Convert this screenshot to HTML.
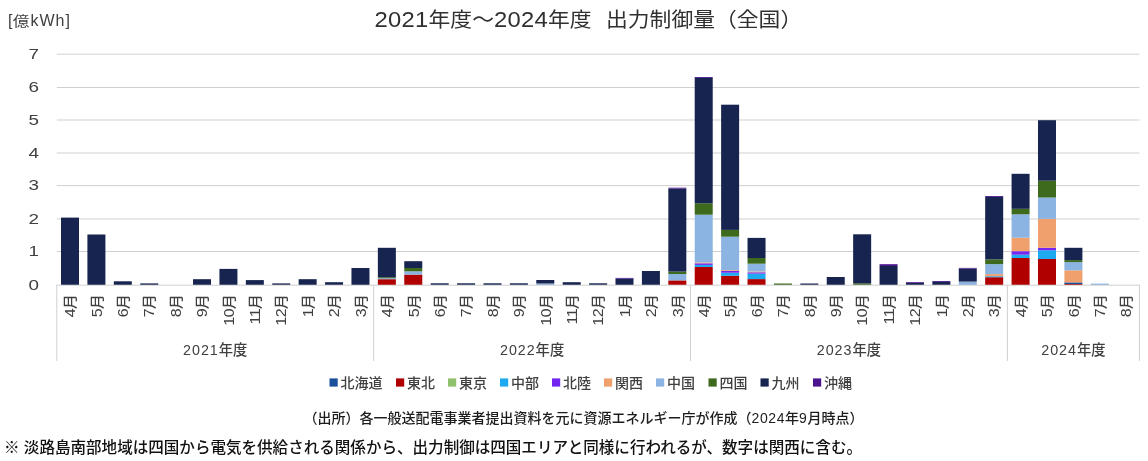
<!DOCTYPE html>
<html lang="ja">
<head>
<meta charset="utf-8">
<title>2021年度～2024年度 出力制御量（全国）</title>
<style>
html,body{margin:0;padding:0;background:#fff;}
body{width:1148px;height:461px;position:relative;overflow:hidden;
 font-family:"Liberation Sans","Noto Sans CJK JP",sans-serif;color:#404040;}
.t{position:absolute;white-space:nowrap;line-height:1;}
#chart{position:absolute;left:0;top:0;}
.title{font-size:21.8px;color:#303030;transform-origin:0 50%;transform:scaleY(0.93);}
.title .n{font-size:23.8px;letter-spacing:0.25px;}
.sp{display:inline-block;width:14.5px;}
.unit{font-size:16px;letter-spacing:1.0px;}
.unit .k{display:inline-block;transform-origin:50% 72%;transform:scale(1.04,0.88);}
.yl{font-size:14.5px;width:20px;text-align:right;transform-origin:100% 50%;transform:scaleX(1.3);}
.ml{font-weight:500;font-size:13.6px;letter-spacing:0.3px;transform-origin:0 0;transform:rotate(-90deg) scaleX(1.1) translate(-100%,-50%);}
.ml .n{font-size:14.6px;letter-spacing:-0.4px;margin-right:-0.5px;}
.yr{font-weight:500;font-size:14.3px;transform:translateX(-50%);}
.yr .n{letter-spacing:0.95px;}
.lg{font-size:14px;font-weight:500;}
.src{font-size:14.0px;color:#1c1c1c;font-weight:500;}
.note{font-size:15.55px;color:#111;font-weight:500;}
.n{letter-spacing:0.6px;}
</style>
</head>
<body>

<svg id="chart" width="1148" height="461" viewBox="0 0 1148 461" shape-rendering="auto">
<rect x="56.8" y="251.00" width="1082.6" height="1" fill="#d0d0d0"/>
<rect x="56.8" y="218.50" width="1082.6" height="1" fill="#d0d0d0"/>
<rect x="56.8" y="185.10" width="1082.6" height="1" fill="#d0d0d0"/>
<rect x="56.8" y="152.50" width="1082.6" height="1" fill="#d0d0d0"/>
<rect x="56.8" y="119.50" width="1082.6" height="1" fill="#d0d0d0"/>
<rect x="56.8" y="87.00" width="1082.6" height="1" fill="#d0d0d0"/>
<rect x="56.8" y="53.70" width="1082.6" height="1" fill="#d0d0d0"/>
<rect x="61.00" y="217.60" width="18.0" height="67.40" fill="#16244f"/>
<rect x="87.41" y="234.50" width="18.0" height="50.50" fill="#16244f"/>
<rect x="113.81" y="281.30" width="18.0" height="3.70" fill="#16244f"/>
<rect x="140.22" y="283.40" width="18.0" height="1.60" fill="#16244f"/>
<rect x="193.03" y="279.20" width="18.0" height="5.80" fill="#16244f"/>
<rect x="219.43" y="268.90" width="18.0" height="16.10" fill="#16244f"/>
<rect x="245.84" y="280.10" width="18.0" height="4.90" fill="#16244f"/>
<rect x="272.24" y="283.40" width="18.0" height="1.60" fill="#16244f"/>
<rect x="298.64" y="279.20" width="18.0" height="5.80" fill="#16244f"/>
<rect x="325.05" y="282.20" width="18.0" height="2.80" fill="#16244f"/>
<rect x="351.46" y="268.00" width="18.0" height="17.00" fill="#16244f"/>
<rect x="377.86" y="279.20" width="18.0" height="5.80" fill="#b00000"/>
<rect x="377.86" y="278.20" width="18.0" height="1.00" fill="#8bb4e2"/>
<rect x="377.86" y="277.20" width="18.0" height="1.00" fill="#3d6a1c"/>
<rect x="377.86" y="247.80" width="18.0" height="29.40" fill="#16244f"/>
<rect x="404.26" y="274.60" width="18.0" height="10.40" fill="#b00000"/>
<rect x="404.26" y="271.30" width="18.0" height="3.30" fill="#8bb4e2"/>
<rect x="404.26" y="268.00" width="18.0" height="3.30" fill="#3d6a1c"/>
<rect x="404.26" y="261.20" width="18.0" height="6.80" fill="#16244f"/>
<rect x="430.67" y="283.30" width="18.0" height="1.70" fill="#16244f"/>
<rect x="457.08" y="283.30" width="18.0" height="1.70" fill="#16244f"/>
<rect x="483.48" y="283.30" width="18.0" height="1.70" fill="#16244f"/>
<rect x="509.88" y="283.30" width="18.0" height="1.70" fill="#16244f"/>
<rect x="536.29" y="283.50" width="18.0" height="1.50" fill="#8bb4e2"/>
<rect x="536.29" y="280.00" width="18.0" height="3.50" fill="#16244f"/>
<rect x="562.70" y="282.20" width="18.0" height="2.80" fill="#16244f"/>
<rect x="589.10" y="283.30" width="18.0" height="1.70" fill="#16244f"/>
<rect x="615.50" y="278.70" width="18.0" height="6.30" fill="#16244f"/>
<rect x="615.50" y="277.90" width="18.0" height="0.80" fill="#4b1590"/>
<rect x="641.91" y="271.00" width="18.0" height="14.00" fill="#16244f"/>
<rect x="668.32" y="280.40" width="18.0" height="4.60" fill="#b00000"/>
<rect x="668.32" y="274.00" width="18.0" height="6.40" fill="#8bb4e2"/>
<rect x="668.32" y="271.60" width="18.0" height="2.40" fill="#3d6a1c"/>
<rect x="668.32" y="188.60" width="18.0" height="83.00" fill="#16244f"/>
<rect x="668.32" y="187.70" width="18.0" height="0.90" fill="#4b1590"/>
<rect x="694.72" y="267.00" width="18.0" height="18.00" fill="#b00000"/>
<rect x="694.72" y="264.90" width="18.0" height="2.10" fill="#1eaaf0"/>
<rect x="694.72" y="263.30" width="18.0" height="1.60" fill="#7326f2"/>
<rect x="694.72" y="262.50" width="18.0" height="0.80" fill="#f0a06c"/>
<rect x="694.72" y="214.70" width="18.0" height="47.80" fill="#8bb4e2"/>
<rect x="694.72" y="203.30" width="18.0" height="11.40" fill="#3d6a1c"/>
<rect x="694.72" y="77.90" width="18.0" height="125.40" fill="#16244f"/>
<rect x="694.72" y="77.00" width="18.0" height="0.90" fill="#4b1590"/>
<rect x="721.12" y="275.80" width="18.0" height="9.20" fill="#b00000"/>
<rect x="721.12" y="272.70" width="18.0" height="3.10" fill="#1eaaf0"/>
<rect x="721.12" y="270.90" width="18.0" height="1.80" fill="#7326f2"/>
<rect x="721.12" y="270.10" width="18.0" height="0.80" fill="#f0a06c"/>
<rect x="721.12" y="236.70" width="18.0" height="33.40" fill="#8bb4e2"/>
<rect x="721.12" y="229.90" width="18.0" height="6.80" fill="#3d6a1c"/>
<rect x="721.12" y="104.70" width="18.0" height="125.20" fill="#16244f"/>
<rect x="747.53" y="279.10" width="18.0" height="5.90" fill="#b00000"/>
<rect x="747.53" y="273.60" width="18.0" height="5.50" fill="#1eaaf0"/>
<rect x="747.53" y="272.30" width="18.0" height="1.30" fill="#7326f2"/>
<rect x="747.53" y="271.50" width="18.0" height="0.80" fill="#f0a06c"/>
<rect x="747.53" y="263.70" width="18.0" height="7.80" fill="#8bb4e2"/>
<rect x="747.53" y="258.00" width="18.0" height="5.70" fill="#3d6a1c"/>
<rect x="747.53" y="237.90" width="18.0" height="20.10" fill="#16244f"/>
<rect x="773.94" y="283.50" width="18.0" height="1.50" fill="#3d6a1c"/>
<rect x="800.34" y="283.50" width="18.0" height="1.50" fill="#16244f"/>
<rect x="826.75" y="277.00" width="18.0" height="8.00" fill="#16244f"/>
<rect x="853.15" y="283.50" width="18.0" height="1.50" fill="#3d6a1c"/>
<rect x="853.15" y="234.30" width="18.0" height="49.20" fill="#16244f"/>
<rect x="879.56" y="266.00" width="18.0" height="19.00" fill="#16244f"/>
<rect x="879.56" y="264.20" width="18.0" height="1.80" fill="#4b1590"/>
<rect x="905.96" y="283.00" width="18.0" height="2.00" fill="#16244f"/>
<rect x="905.96" y="282.20" width="18.0" height="0.80" fill="#4b1590"/>
<rect x="932.37" y="282.00" width="18.0" height="3.00" fill="#16244f"/>
<rect x="932.37" y="281.10" width="18.0" height="0.90" fill="#4b1590"/>
<rect x="958.77" y="281.60" width="18.0" height="3.40" fill="#8bb4e2"/>
<rect x="958.77" y="268.60" width="18.0" height="13.00" fill="#16244f"/>
<rect x="958.77" y="267.90" width="18.0" height="0.70" fill="#4b1590"/>
<rect x="985.18" y="277.20" width="18.0" height="7.80" fill="#b00000"/>
<rect x="985.18" y="276.20" width="18.0" height="1.00" fill="#1eaaf0"/>
<rect x="985.18" y="274.10" width="18.0" height="2.10" fill="#f0a06c"/>
<rect x="985.18" y="264.10" width="18.0" height="10.00" fill="#8bb4e2"/>
<rect x="985.18" y="259.40" width="18.0" height="4.70" fill="#3d6a1c"/>
<rect x="985.18" y="196.90" width="18.0" height="62.50" fill="#16244f"/>
<rect x="985.18" y="196.00" width="18.0" height="0.90" fill="#4b1590"/>
<rect x="1011.58" y="258.00" width="18.0" height="27.00" fill="#b00000"/>
<rect x="1011.58" y="254.70" width="18.0" height="3.30" fill="#1eaaf0"/>
<rect x="1011.58" y="251.20" width="18.0" height="3.50" fill="#7326f2"/>
<rect x="1011.58" y="237.70" width="18.0" height="13.50" fill="#f0a06c"/>
<rect x="1011.58" y="214.30" width="18.0" height="23.40" fill="#8bb4e2"/>
<rect x="1011.58" y="208.80" width="18.0" height="5.50" fill="#3d6a1c"/>
<rect x="1011.58" y="173.80" width="18.0" height="35.00" fill="#16244f"/>
<rect x="1037.99" y="259.00" width="18.0" height="26.00" fill="#b00000"/>
<rect x="1037.99" y="250.20" width="18.0" height="8.80" fill="#1eaaf0"/>
<rect x="1037.99" y="247.80" width="18.0" height="2.40" fill="#7326f2"/>
<rect x="1037.99" y="218.90" width="18.0" height="28.90" fill="#f0a06c"/>
<rect x="1037.99" y="197.50" width="18.0" height="21.40" fill="#8bb4e2"/>
<rect x="1037.99" y="180.70" width="18.0" height="16.80" fill="#3d6a1c"/>
<rect x="1037.99" y="120.20" width="18.0" height="60.50" fill="#16244f"/>
<rect x="1064.39" y="284.00" width="18.0" height="1.00" fill="#b00000"/>
<rect x="1064.39" y="282.40" width="18.0" height="1.60" fill="#1a4f9c"/>
<rect x="1064.39" y="270.30" width="18.0" height="12.10" fill="#f0a06c"/>
<rect x="1064.39" y="262.10" width="18.0" height="8.20" fill="#8bb4e2"/>
<rect x="1064.39" y="260.10" width="18.0" height="2.00" fill="#3d6a1c"/>
<rect x="1064.39" y="247.80" width="18.0" height="12.30" fill="#16244f"/>
<rect x="1090.80" y="283.60" width="18.0" height="1.40" fill="#8bb4e2"/>
<rect x="56.3" y="284.70" width="1083.6" height="1" fill="#d0d0d0"/>
<rect x="56.30" y="285.0" width="1" height="76" fill="#d0d0d0"/>
<rect x="373.16" y="285.0" width="1" height="76" fill="#d0d0d0"/>
<rect x="690.02" y="285.0" width="1" height="76" fill="#d0d0d0"/>
<rect x="1006.88" y="285.0" width="1" height="76" fill="#d0d0d0"/>
<rect x="1138.90" y="285.0" width="1" height="76" fill="#d0d0d0"/>
<rect x="329.5" y="378.4" width="8.2" height="8.2" fill="#1a4f9c"/>
<rect x="396" y="378.4" width="8.2" height="8.2" fill="#b00000"/>
<rect x="448" y="378.4" width="8.2" height="8.2" fill="#8fc06b"/>
<rect x="500" y="378.4" width="8.2" height="8.2" fill="#1eaaf0"/>
<rect x="552" y="378.4" width="8.2" height="8.2" fill="#7326f2"/>
<rect x="604" y="378.4" width="8.2" height="8.2" fill="#f0a06c"/>
<rect x="656" y="378.4" width="8.2" height="8.2" fill="#8bb4e2"/>
<rect x="708.5" y="378.4" width="8.2" height="8.2" fill="#3d6a1c"/>
<rect x="760.5" y="378.4" width="8.2" height="8.2" fill="#16244f"/>
<rect x="813" y="378.4" width="8.2" height="8.2" fill="#4b1590"/>
</svg>
<div class="t title" style="left:374.6px;top:7.8px;"><span class="n">2021</span>年度～<span class="n">2024</span>年度<span class="sp"> </span>出力制御量（全国）</div>
<div class="t unit" style="left:8px;top:12.9px;">[<span class="k">億</span>kWh]</div>
<div class="t yl" style="left:19px;top:277.8px;">0</div>
<div class="t yl" style="left:19px;top:244.3px;">1</div>
<div class="t yl" style="left:19px;top:211.8px;">2</div>
<div class="t yl" style="left:19px;top:178.4px;">3</div>
<div class="t yl" style="left:19px;top:145.8px;">4</div>
<div class="t yl" style="left:19px;top:112.8px;">5</div>
<div class="t yl" style="left:19px;top:80.3px;">6</div>
<div class="t yl" style="left:19px;top:47.0px;">7</div>
<div class="t ml" style="left:70.2px;top:294px;"><span class="n">4</span>月</div>
<div class="t ml" style="left:96.6px;top:294px;"><span class="n">5</span>月</div>
<div class="t ml" style="left:123.0px;top:294px;"><span class="n">6</span>月</div>
<div class="t ml" style="left:149.4px;top:294px;"><span class="n">7</span>月</div>
<div class="t ml" style="left:175.8px;top:294px;"><span class="n">8</span>月</div>
<div class="t ml" style="left:202.2px;top:294px;"><span class="n">9</span>月</div>
<div class="t ml" style="left:228.6px;top:294px;"><span class="n">10</span>月</div>
<div class="t ml" style="left:255.0px;top:294px;"><span class="n">11</span>月</div>
<div class="t ml" style="left:281.4px;top:294px;"><span class="n">12</span>月</div>
<div class="t ml" style="left:307.8px;top:294px;"><span class="n">1</span>月</div>
<div class="t ml" style="left:334.2px;top:294px;"><span class="n">2</span>月</div>
<div class="t ml" style="left:360.7px;top:294px;"><span class="n">3</span>月</div>
<div class="t ml" style="left:387.1px;top:294px;"><span class="n">4</span>月</div>
<div class="t ml" style="left:413.5px;top:294px;"><span class="n">5</span>月</div>
<div class="t ml" style="left:439.9px;top:294px;"><span class="n">6</span>月</div>
<div class="t ml" style="left:466.3px;top:294px;"><span class="n">7</span>月</div>
<div class="t ml" style="left:492.7px;top:294px;"><span class="n">8</span>月</div>
<div class="t ml" style="left:519.1px;top:294px;"><span class="n">9</span>月</div>
<div class="t ml" style="left:545.5px;top:294px;"><span class="n">10</span>月</div>
<div class="t ml" style="left:571.9px;top:294px;"><span class="n">11</span>月</div>
<div class="t ml" style="left:598.3px;top:294px;"><span class="n">12</span>月</div>
<div class="t ml" style="left:624.7px;top:294px;"><span class="n">1</span>月</div>
<div class="t ml" style="left:651.1px;top:294px;"><span class="n">2</span>月</div>
<div class="t ml" style="left:677.5px;top:294px;"><span class="n">3</span>月</div>
<div class="t ml" style="left:703.9px;top:294px;"><span class="n">4</span>月</div>
<div class="t ml" style="left:730.3px;top:294px;"><span class="n">5</span>月</div>
<div class="t ml" style="left:756.7px;top:294px;"><span class="n">6</span>月</div>
<div class="t ml" style="left:783.1px;top:294px;"><span class="n">7</span>月</div>
<div class="t ml" style="left:809.5px;top:294px;"><span class="n">8</span>月</div>
<div class="t ml" style="left:835.9px;top:294px;"><span class="n">9</span>月</div>
<div class="t ml" style="left:862.4px;top:294px;"><span class="n">10</span>月</div>
<div class="t ml" style="left:888.8px;top:294px;"><span class="n">11</span>月</div>
<div class="t ml" style="left:915.2px;top:294px;"><span class="n">12</span>月</div>
<div class="t ml" style="left:941.6px;top:294px;"><span class="n">1</span>月</div>
<div class="t ml" style="left:968.0px;top:294px;"><span class="n">2</span>月</div>
<div class="t ml" style="left:994.4px;top:294px;"><span class="n">3</span>月</div>
<div class="t ml" style="left:1020.8px;top:294px;"><span class="n">4</span>月</div>
<div class="t ml" style="left:1047.2px;top:294px;"><span class="n">5</span>月</div>
<div class="t ml" style="left:1073.6px;top:294px;"><span class="n">6</span>月</div>
<div class="t ml" style="left:1100.0px;top:294px;"><span class="n">7</span>月</div>
<div class="t ml" style="left:1126.4px;top:294px;"><span class="n">8</span>月</div>
<div class="t yr" style="left:215.2px;top:343px;"><span class="n">2021</span>年度</div>
<div class="t yr" style="left:532.1px;top:343px;"><span class="n">2022</span>年度</div>
<div class="t yr" style="left:848.9px;top:343px;"><span class="n">2023</span>年度</div>
<div class="t yr" style="left:1073.4px;top:343px;"><span class="n">2024</span>年度</div>
<div class="t lg" style="left:340.5px;top:376px;">北海道</div>
<div class="t lg" style="left:407px;top:376px;">東北</div>
<div class="t lg" style="left:459px;top:376px;">東京</div>
<div class="t lg" style="left:511px;top:376px;">中部</div>
<div class="t lg" style="left:563px;top:376px;">北陸</div>
<div class="t lg" style="left:615px;top:376px;">関西</div>
<div class="t lg" style="left:667px;top:376px;">中国</div>
<div class="t lg" style="left:719.5px;top:376px;">四国</div>
<div class="t lg" style="left:771.5px;top:376px;">九州</div>
<div class="t lg" style="left:824px;top:376px;">沖縄</div>
<div class="t src" style="left:303.5px;top:410.6px;">（出所）各一般送配電事業者提出資料を元に資源エネルギー庁が作成（<span class="n">2024</span>年<span class="n">9</span>月時点）</div>
<div class="t note" style="left:4px;top:440px;">※ 淡路島南部地域は四国から電気を供給される関係から、出力制御は四国エリアと同様に行われるが、数字は関西に含む。</div>
</body>
</html>
